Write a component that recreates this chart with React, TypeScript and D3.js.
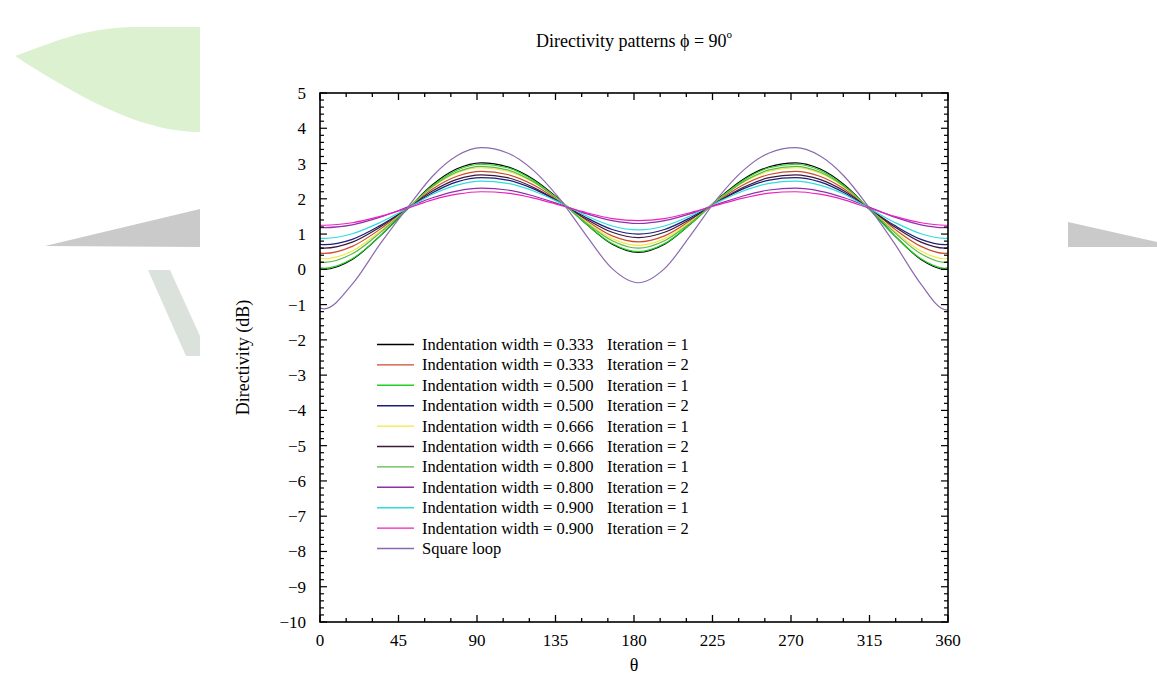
import React from "react";
import * as d3 from "d3";

// theta sample points (degrees); the pattern in the figure is centred slightly right of 0/90/180
const thetas = [0, 2.5, 18.5, 34.5, 50.5, 64.5, 78.5, 92.5, 107.5, 122.5, 137.5, 152.5, 167.5, 182.5, 197.5, 212.5, 227.5, 242.5, 257.5, 272.5, 286.5, 300.5, 314.5, 329.5, 344.5, 358, 360];

// directivity in dB
const w333it1 = [0.01, 0.0, 0.28, 0.95, 1.73, 2.4, 2.85, 3.02, 2.91, 2.55, 1.97, 1.29, 0.71, 0.48, 0.71, 1.29, 1.97, 2.55, 2.91, 3.02, 2.85, 2.4, 1.73, 0.95, 0.28, 0.0, 0.01];
const w333it2 = [0.46, 0.45, 0.65, 1.14, 1.74, 2.28, 2.64, 2.78, 2.69, 2.39, 1.92, 1.39, 0.95, 0.78, 0.95, 1.39, 1.92, 2.39, 2.69, 2.78, 2.64, 2.28, 1.74, 1.14, 0.65, 0.45, 0.46];
const w500it1 = [0.04, 0.03, 0.3, 0.95, 1.72, 2.37, 2.81, 2.98, 2.88, 2.52, 1.95, 1.29, 0.73, 0.5, 0.73, 1.29, 1.95, 2.52, 2.88, 2.98, 2.81, 2.37, 1.72, 0.95, 0.3, 0.03, 0.04];
const w500it2 = [0.71, 0.7, 0.85, 1.24, 1.73, 2.17, 2.48, 2.6, 2.53, 2.28, 1.9, 1.47, 1.13, 1.0, 1.13, 1.47, 1.9, 2.28, 2.53, 2.6, 2.48, 2.17, 1.73, 1.24, 0.85, 0.7, 0.71];
const w666it1 = [0.31, 0.3, 0.52, 1.08, 1.75, 2.33, 2.73, 2.88, 2.78, 2.46, 1.95, 1.36, 0.87, 0.68, 0.87, 1.36, 1.95, 2.46, 2.78, 2.88, 2.73, 2.33, 1.75, 1.08, 0.52, 0.3, 0.31];
const w666it2 = [0.61, 0.6, 0.77, 1.2, 1.74, 2.22, 2.55, 2.68, 2.6, 2.32, 1.9, 1.43, 1.05, 0.9, 1.05, 1.43, 1.9, 2.32, 2.6, 2.68, 2.55, 2.22, 1.74, 1.2, 0.77, 0.6, 0.61];
const w800it1 = [0.21, 0.2, 0.44, 1.04, 1.74, 2.35, 2.76, 2.92, 2.82, 2.48, 1.94, 1.32, 0.81, 0.6, 0.81, 1.32, 1.94, 2.48, 2.82, 2.92, 2.76, 2.35, 1.74, 1.04, 0.44, 0.2, 0.21];
const w800it2 = [1.18, 1.18, 1.26, 1.48, 1.77, 2.03, 2.22, 2.3, 2.25, 2.08, 1.84, 1.58, 1.38, 1.3, 1.38, 1.58, 1.84, 2.08, 2.25, 2.3, 2.22, 2.03, 1.77, 1.48, 1.26, 1.18, 1.18];
const w900it1 = [0.88, 0.88, 1.01, 1.33, 1.74, 2.13, 2.39, 2.5, 2.44, 2.22, 1.89, 1.52, 1.23, 1.12, 1.23, 1.52, 1.89, 2.22, 2.44, 2.5, 2.39, 2.13, 1.74, 1.33, 1.01, 0.88, 0.88];
const w900it2 = [1.25, 1.25, 1.32, 1.5, 1.74, 1.97, 2.13, 2.2, 2.16, 2.02, 1.82, 1.61, 1.44, 1.38, 1.44, 1.61, 1.82, 2.02, 2.16, 2.2, 2.13, 1.97, 1.74, 1.5, 1.32, 1.25, 1.25];
const squareLoop = [-1.1, -1.12, -0.42, 0.72, 1.77, 2.64, 3.22, 3.45, 3.3, 2.8, 1.99, 0.97, 0.02, -0.38, 0.02, 0.97, 1.99, 2.8, 3.3, 3.45, 3.22, 2.64, 1.77, 0.72, -0.42, -1.14, -1.15];

const widthLabels = ["0.333", "0.333", "0.500", "0.500", "0.666", "0.666", "0.800", "0.800", "0.900", "0.900"];
const iterLabels = ["1", "2", "1", "2", "1", "2", "1", "2", "1", "2"];
const lineColors = ["#000000", "#cc4a30", "#22d022", "#1c1c7a", "#f0ea40", "#3a1a3a", "#5cb84a", "#9030a8", "#30dcdc", "#ec20c0", "#8a6aae"];
const allSeries = [w333it1, w333it2, w500it1, w500it2, w666it1, w666it2, w800it1, w800it2, w900it1, w900it2, squareLoop];

const xTicks = [0, 45, 90, 135, 180, 225, 270, 315, 360];
const yTicks = d3.range(-10, 6);

const W = 1157;
const H = 677;
const left = 320, right = 948, top = 93, bottom = 622;
const font = "'Liberation Serif', 'Times New Roman', serif";

export default function App() {
  const x = d3.scaleLinear().domain([0, 360]).range([left, right]);
  const y = d3.scaleLinear().domain([-10, 5]).range([bottom, top]);

  const line = d3.line<number>()
    .x((d, i) => x(thetas[i]))
    .y((d) => y(d))
    .curve(d3.curveMonotoneX);

  const xMinor = d3.range(0, 361, 15);
  const yMinor = d3.range(-10, 5.001, 0.2);

  const legendNames = allSeries.map((s, i) => i < 10 ? ["Indentation width = " + widthLabels[i], "Iteration = " + iterLabels[i]] : ["Square loop", ""]);

  return (
    <svg width={W} height={H} style={{ position: "absolute", left: 0, top: 0, background: "#fff" }} fontFamily={font}>
      {/* faint watermark behind the figure */}
      <path d="M15,56 C50,44 80,28 135,27 L200,27 L200,132 C150,132 95,108 15,56 Z" fill="#dcf1d0" />
      <path d="M45,246 L200,209 L200,247 Z" fill="#cacaca" />
      <path d="M148,270 L170,270 L200,336 L200,356 L186,356 Z" fill="#dbe2db" />
      <path d="M1068,222 L1157,242 L1157,247 L1068,247 Z" fill="#cacaca" />
      <rect x={200} y={0} width={868} height={H} fill="#fff" />

      <text x={(left + right) / 2} y={47} textAnchor="middle" fontSize={18}>
        Directivity patterns ϕ = 90<tspan fontSize={11} dy={-9}>o</tspan>
      </text>

      <g>
        {allSeries.map((s, i) => (
          <path key={i} d={line(s) || ""} fill="none" stroke={lineColors[i]} strokeWidth={1.2} />
        ))}
      </g>

      {/* frame and ticks */}
      <rect x={left} y={top} width={right - left} height={bottom - top} fill="none" stroke="#000" strokeWidth={1.6} />
      {xMinor.map((t) => {
        const len = t % 45 === 0 ? 7 : 4;
        return (
          <g key={"xt" + t}>
            <line x1={x(t)} x2={x(t)} y1={bottom} y2={bottom - len} stroke="#000" strokeWidth={1.3} />
            <line x1={x(t)} x2={x(t)} y1={top} y2={top + len} stroke="#000" strokeWidth={1.3} />
          </g>
        );
      })}
      {yMinor.map((v, i) => {
        const len = i % 5 === 0 ? 7 : 4;
        return (
          <g key={"yt" + i}>
            <line x1={left} x2={left + len} y1={y(v)} y2={y(v)} stroke="#000" strokeWidth={1.2} />
            <line x1={right} x2={right - len} y1={y(v)} y2={y(v)} stroke="#000" strokeWidth={1.2} />
          </g>
        );
      })}

      {xTicks.map((t) => (
        <text key={"xl" + t} x={x(t)} y={646} textAnchor="middle" fontSize={17}>{t}</text>
      ))}
      {yTicks.map((v) => (
        <text key={"yl" + v} x={306} y={y(v) + 6} textAnchor="end" fontSize={17}>{v < 0 ? "\u2212" + Math.abs(v) : v}</text>
      ))}

      <text x={(left + right) / 2} y={671} textAnchor="middle" fontSize={18}>θ</text>
      <text transform={`translate(249,${(top + bottom) / 2}) rotate(-90)`} textAnchor="middle" fontSize={18}>Directivity (dB)</text>

      {/* legend */}
      {legendNames.map((n, i) => {
        const ly = 344.5 + i * 20.4;
        return (
          <g key={"lg" + i}>
            <line x1={377} x2={414} y1={ly} y2={ly} stroke={lineColors[i]} strokeWidth={1.4} />
            <text x={422} y={ly + 5.5} fontSize={16.5}>{n[0]}</text>
            {n[1] && <text x={607} y={ly + 5.5} fontSize={16.5}>{n[1]}</text>}
          </g>
        );
      })}
    </svg>
  );
}
